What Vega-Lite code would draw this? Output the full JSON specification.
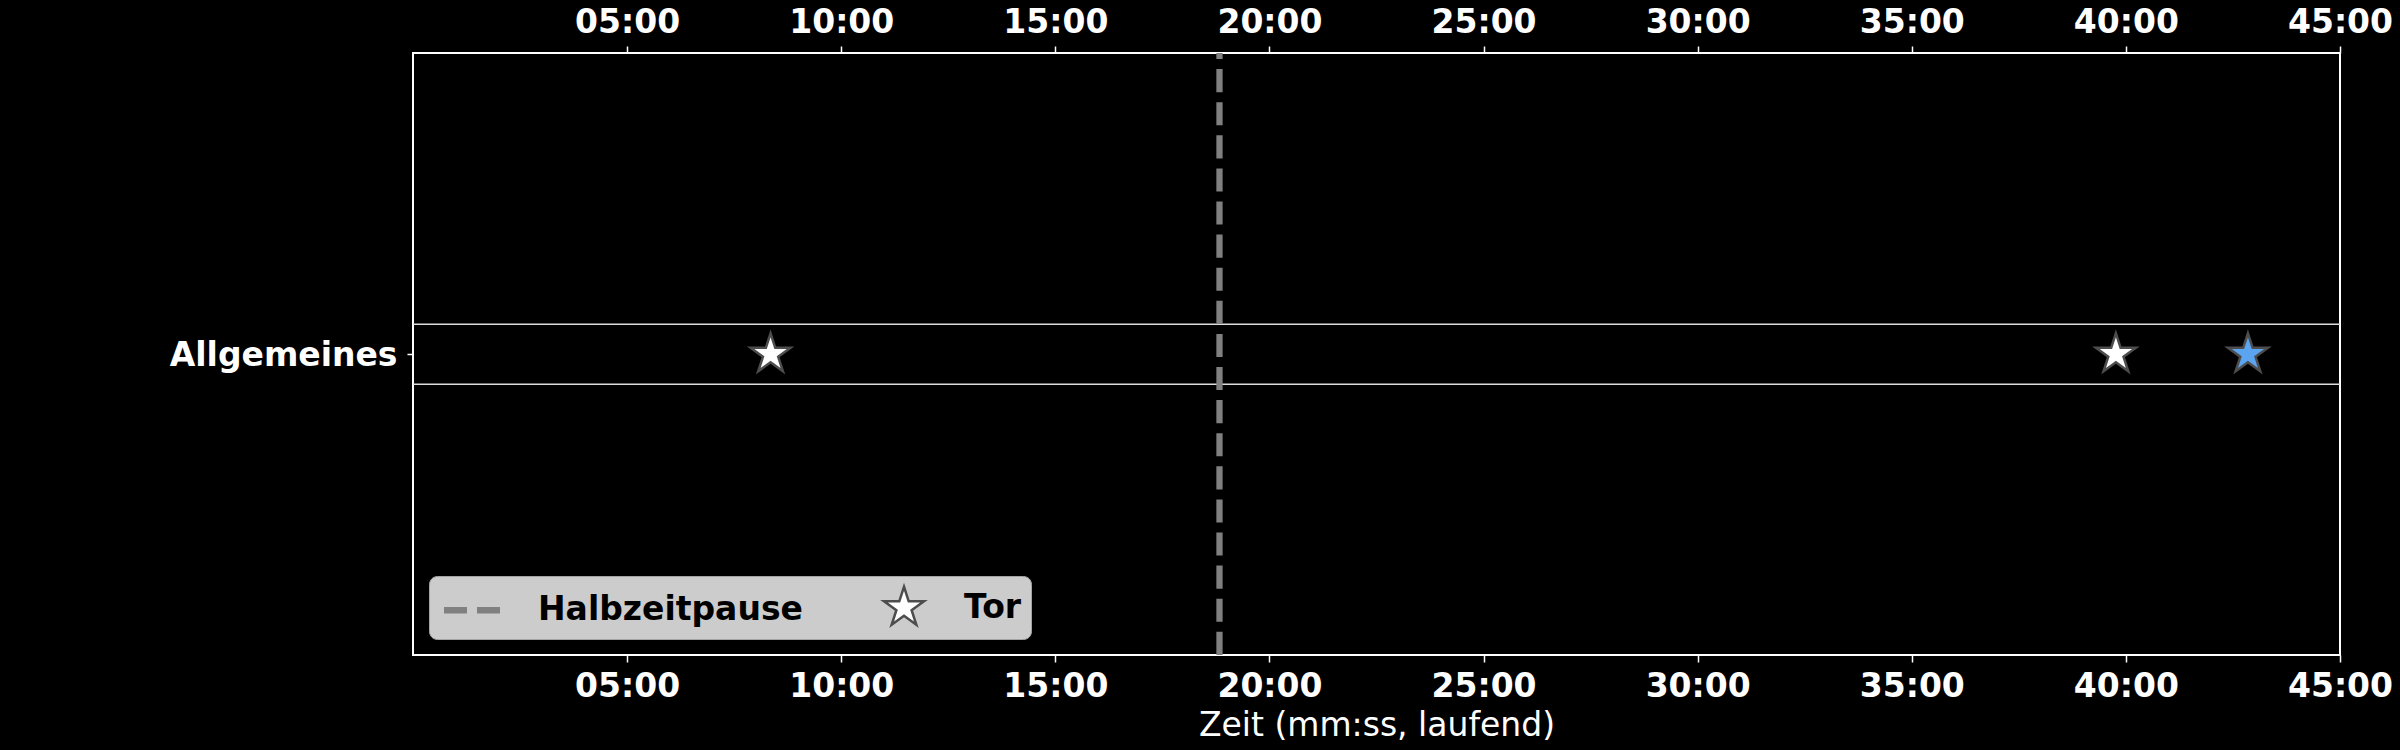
{
  "$schema": "https://vega.github.io/schema/vega-lite/v6.json",
  "width": 1927,
  "height": 602,
  "autosize": {"type": "none"},
  "padding": {"left": 413, "top": 53, "right": 60, "bottom": 95},
  "background": "black",
  "data": {
    "values": [
      {"event": "Halbzeitpause", "t": 1130, "lane": "Allgemeines", "team": null},
      {"event": "Tor", "t": 501, "lane": "Allgemeines", "team": "Heim"},
      {"event": "Tor", "t": 2386, "lane": "Allgemeines", "team": "Heim"},
      {"event": "Tor", "t": 2571, "lane": "Allgemeines", "team": "Gast"}
    ]
  },
  "resolve": {"axis": {"x": "independent"}},
  "layer": [
    {
      "transform": [{"aggregate": [{"op": "count", "as": "n"}], "groupby": ["lane"]}],
      "mark": {"type": "rule", "color": "#dddddd", "strokeWidth": 1.5},
      "encoding": {
        "y": {"field": "lane", "type": "nominal", "bandPosition": 0, "title": null,
              "scale": {"type": "band", "range": [271.3, 331.3], "paddingInner": 0, "paddingOuter": 0}}
      }
    },
    {
      "transform": [{"aggregate": [{"op": "count", "as": "n"}], "groupby": ["lane"]}],
      "mark": {"type": "rule", "color": "#dddddd", "strokeWidth": 1.5},
      "encoding": {
        "y": {"field": "lane", "type": "nominal", "bandPosition": 1, "title": null,
              "scale": {"type": "band", "range": [271.3, 331.3], "paddingInner": 0, "paddingOuter": 0}}
      }
    },
    {
      "transform": [{"filter": "datum.event === 'Halbzeitpause'"}],
      "mark": {"type": "rule", "color": "#808080", "strokeWidth": 6.25, "strokeDash": [23.1, 10], "strokeDashOffset": 17},
      "encoding": {
        "x": {"field": "t", "type": "quantitative",
              "scale": {"domain": [0, 2700], "nice": false, "zero": false},
              "axis": {"orient": "bottom", "title": "Zeit (mm:ss, laufend)",
                       "values": [300, 600, 900, 1200, 1500, 1800, 2100, 2400, 2700],
                       "labelExpr": "utcFormat(datum.value * 1000, '%M:%S')"}}
      }
    },
    {
      "transform": [{"filter": "datum.event === 'Tor'"}],
      "mark": {"type": "point", "filled": true, "opacity": 1, "strokeWidth": 2.5, "size": 1764},
      "encoding": {
        "x": {"field": "t", "type": "quantitative",
              "scale": {"domain": [0, 2700], "nice": false, "zero": false},
              "axis": {"orient": "top", "title": null,
                       "values": [300, 600, 900, 1200, 1500, 1800, 2100, 2400, 2700],
                       "labelExpr": "utcFormat(datum.value * 1000, '%M:%S')"}},
        "y": {"field": "lane", "type": "nominal", "title": null,
              "scale": {"type": "band", "range": [271.3, 331.3], "paddingInner": 0, "paddingOuter": 0}},
        "shape": {"field": "event", "type": "nominal", "legend": {"title": null},
                  "scale": {"domain": ["Halbzeitpause", "Tor"],
                            "range": ["M-1.619,-0.15H-0.524V0.15H-1.619Z M-0.048,-0.15H1.048V0.15H-0.048Z",
                                      "M0,-1L0.2245,-0.309L0.9511,-0.309L0.3633,0.118L0.5878,0.809L0,0.382L-0.5878,0.809L-0.3633,0.118L-0.9511,-0.309L-0.2245,-0.309Z"]}},
        "fill": {"field": "event", "type": "nominal", "legend": {"title": null},
                 "scale": {"domain": ["Halbzeitpause", "Tor"], "range": ["#808080", "#ffffff"]},
                 "condition": {"test": "datum.team === 'Gast'", "value": "#5ba4ef"}},
        "stroke": {"field": "event", "type": "nominal", "legend": {"title": null},
                   "scale": {"domain": ["Halbzeitpause", "Tor"], "range": ["transparent", "#4d4d4d"]}}
      }
    }
  ],
  "config": {
    "view": {"stroke": "white", "strokeWidth": 2},
    "font": "DejaVu Sans",
    "axis": {
      "labelFont": "DejaVu Sans", "labelFontSize": 33, "labelFontWeight": "bold", "labelColor": "white",
      "tickColor": "white", "tickWidth": 1.5, "domain": false, "grid": false,
      "titleFont": "DejaVu Sans", "titleFontSize": 33, "titleFontWeight": "normal", "titleColor": "white",
      "labelFlush": false, "labelOverlap": false, "labelLimit": 600
    },
    "axisX": {"tickSize": 7},
    "axisTop": {"labelPadding": 7},
    "axisBottom": {"labelPadding": 8, "titlePadding": 6},
    "axisY": {"tickSize": 6, "labelPadding": 10, "labelOffset": 2},
    "legend": {
      "orient": "bottom-left", "offset": 16, "direction": "horizontal", "columns": 2,
      "padding": 9, "fillColor": "#cccccc", "strokeColor": "#a3a3a3", "cornerRadius": 8,
      "labelFont": "DejaVu Sans", "labelFontSize": 33, "labelFontWeight": "bold", "labelColor": "black",
      "labelLimit": 500, "symbolSize": 1764, "symbolStrokeWidth": 2.5, "symbolOffset": 17.5,
      "labelOffset": 37.5, "columnPadding": 61
    }
  }
}
